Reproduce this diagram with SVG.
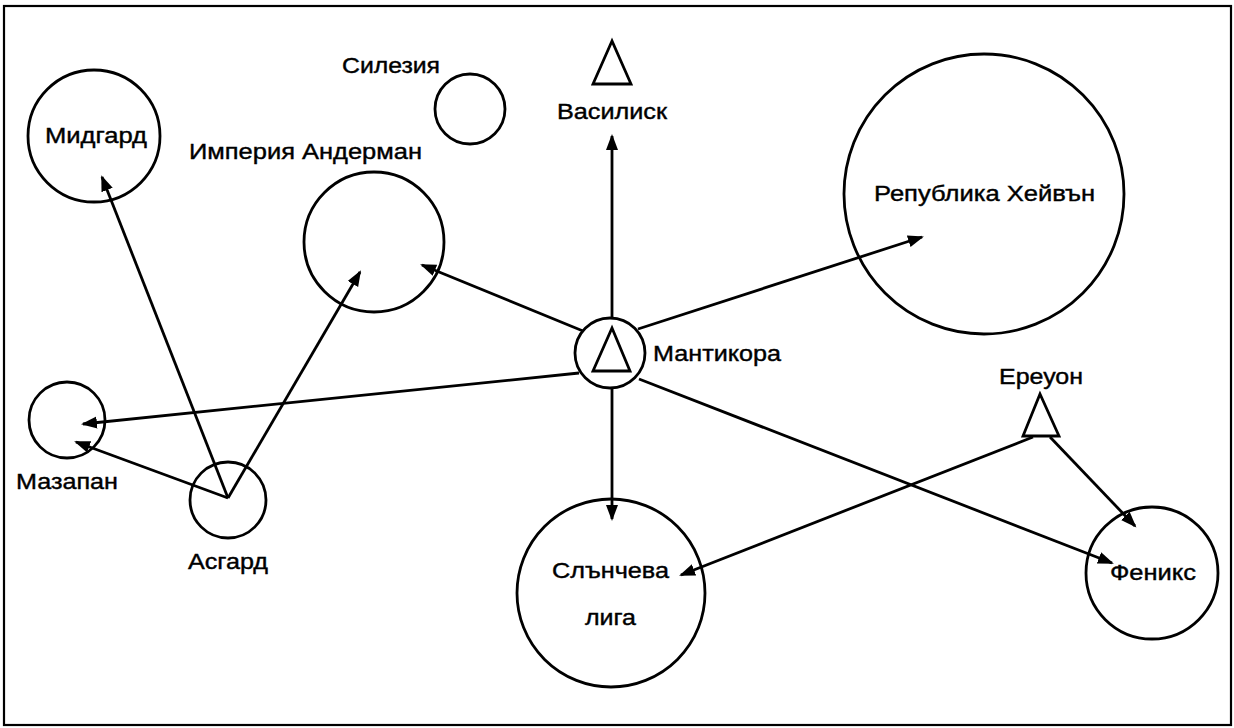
<svg xmlns="http://www.w3.org/2000/svg" width="1234" height="728" viewBox="0 0 1234 728">
<style>
.n{fill:none;stroke:#000;stroke-width:2.8}
.t{font-family:"Liberation Sans",Arial,sans-serif;font-size:22px;fill:#000;stroke:#000;stroke-width:0.4}
.c line{stroke:#000;stroke-width:2.8;marker-end:url(#ah)}
</style>
<defs>
<marker id="ah" markerUnits="userSpaceOnUse" markerWidth="18" markerHeight="14" refX="14" refY="6" orient="auto">
<path d="M0,0 L16,6 L0,12 z" fill="#000"/>
</marker>
</defs>
<rect x="0" y="0" width="1234" height="728" fill="#fff"/>
<rect x="4" y="6" width="1227" height="719" fill="none" stroke="#000" stroke-width="2.2"/>
<g id="connectors" class="c">
<line x1="612" y1="318" x2="612" y2="136"/>
<line x1="612" y1="388" x2="612" y2="519"/>
<line x1="638" y1="329" x2="922" y2="237"/>
<line x1="583" y1="331" x2="422" y2="265"/>
<line x1="579" y1="373" x2="83" y2="424"/>
<line x1="639" y1="379" x2="1112" y2="563"/>
<line x1="1033" y1="437" x2="681" y2="575"/>
<line x1="1050" y1="437" x2="1135" y2="526"/>
<line x1="228" y1="498" x2="76" y2="442"/>
<line x1="228" y1="498" x2="102" y2="177"/>
<line x1="228" y1="498" x2="360" y2="272"/>
</g>
<g id="midgard"><circle class="n" cx="94" cy="136" r="66"/><text class="t" x="45" y="143" textLength="102" lengthAdjust="spacingAndGlyphs">Мидгард</text></g>
<g id="silesia"><circle class="n" cx="470" cy="109" r="35"/><text class="t" x="342" y="73" textLength="98" lengthAdjust="spacingAndGlyphs">Силезия</text></g>
<g id="andermann"><circle class="n" cx="374" cy="242" r="70"/><text class="t" x="189" y="159" textLength="233" lengthAdjust="spacingAndGlyphs">Империя Андерман</text></g>
<g id="basilisk"><polygon class="n" points="612,41 593,84 631,84"/><text class="t" x="557" y="119" textLength="110" lengthAdjust="spacingAndGlyphs">Василиск</text></g>
<g id="haven"><circle class="n" cx="984" cy="194" r="140"/><text class="t" x="874" y="201" textLength="221" lengthAdjust="spacingAndGlyphs">Република Хейвън</text></g>
<g id="manticore"><circle class="n" cx="610" cy="353" r="35"/><polygon class="n" points="612,328 593,371 630,371"/><text class="t" x="653" y="361" textLength="128" lengthAdjust="spacingAndGlyphs">Мантикора</text></g>
<g id="mazapan"><circle class="n" cx="67" cy="420" r="38"/><text class="t" x="16" y="489" textLength="102" lengthAdjust="spacingAndGlyphs">Мазапан</text></g>
<g id="asgard"><circle class="n" cx="228" cy="500" r="38"/><text class="t" x="188" y="569" textLength="80" lengthAdjust="spacingAndGlyphs">Асгард</text></g>
<g id="ereyon"><polygon class="n" points="1040,394 1023,436 1059,436"/><text class="t" x="999" y="384" textLength="84" lengthAdjust="spacingAndGlyphs">Ереуон</text></g>
<g id="sunleague"><circle class="n" cx="611" cy="593" r="94"/><text class="t" x="552" y="578" textLength="117" lengthAdjust="spacingAndGlyphs">Слънчева</text><text class="t" x="585" y="625" textLength="51" lengthAdjust="spacingAndGlyphs">лига</text></g>
<g id="phoenix"><circle class="n" cx="1152" cy="573" r="66"/><text class="t" x="1110" y="580" textLength="86" lengthAdjust="spacingAndGlyphs">Феникс</text></g>
</svg>
